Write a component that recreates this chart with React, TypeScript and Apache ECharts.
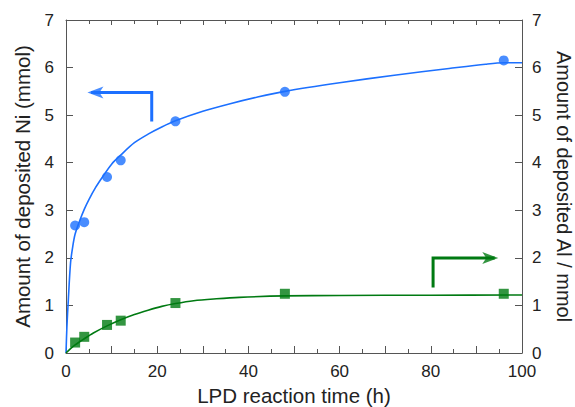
import React, { useEffect, useRef } from "react";
import * as echarts from "echarts";

const niTime = [2, 4, 9, 12, 24, 48, 96];
const niAmount = [2.68, 2.75, 3.7, 4.05, 4.87, 5.49, 6.15];
const alTime = [2, 4, 9, 12, 24, 48, 96];
const alAmount = [0.22, 0.34, 0.59, 0.68, 1.05, 1.245, 1.245];

const niFit: [number, number][] = [
  [0, 0], [0.2, 0.55], [0.5, 1.1], [1, 1.9], [1.5, 2.25], [2, 2.5], [3, 2.78],
  [4, 3.02], [5, 3.22], [6.5, 3.48], [8, 3.7], [10, 3.97], [12, 4.16], [15, 4.42],
  [18, 4.6], [21, 4.75], [24, 4.88], [30, 5.08], [36, 5.24], [42, 5.38], [48, 5.5],
  [60, 5.68], [72, 5.84], [84, 5.98], [92, 6.07], [96, 6.1], [100, 6.1],
];
const alFit: [number, number][] = [
  [0, 0], [1, 0.09], [2, 0.17], [4, 0.3], [6, 0.42], [9, 0.57], [12, 0.7],
  [15, 0.81], [18, 0.9], [21, 0.98], [24, 1.04], [28, 1.1], [33, 1.14], [38, 1.17],
  [48, 1.2], [60, 1.21], [80, 1.215], [100, 1.22],
];
const niArrowLine: [number, number][] = [[18.8, 4.865], [18.8, 5.475], [5.5, 5.475]];
const niArrowHead: [number, number] = [4.7, 5.475];
const alArrowLine: [number, number][] = [[80.5, 1.378], [80.5, 1.996], [94, 1.996]];
const alArrowHead: [number, number] = [94.8, 1.996];

const xTickLabels = ["0", "20", "40", "60", "80", "100"];

const BLUE = "#1c70ff";
const GREEN = "#007a12";
const AXIS = "#555";
const FONT = "Liberation Sans";

export default function App() {
  const ref = useRef<HTMLDivElement>(null);
  useEffect(() => {
    const chart = echarts.init(ref.current!, null, { renderer: "svg" });
    chart.setOption({
      animation: false,
      textStyle: { fontFamily: FONT },
      grid: { left: 66, right: 53, top: 20, bottom: 54, containLabel: false, outerBoundsMode: "none" },
      xAxis: [
        {
          type: "value",
          min: 0,
          max: 100,
          interval: 10,
          axisLine: { show: true, onZero: false, lineStyle: { color: AXIS, width: 1 } },
          axisTick: { show: true, inside: true, length: 7, lineStyle: { color: AXIS } },
          minorTick: { show: true, splitNumber: 2, length: 4, lineStyle: { color: AXIS } },
          splitLine: { show: false },
          axisLabel: {
            fontSize: 17,
            color: "#222",
            fontFamily: FONT,
            margin: 10,
            formatter: (v: number) => (xTickLabels.includes(String(v)) ? String(v) : ""),
          },
          name: "LPD reaction time (h)",
          nameLocation: "middle",
          nameGap: 31,
          nameTextStyle: { fontSize: 20.5, color: "#222", fontFamily: FONT },
        },
        {
          type: "value",
          position: "top",
          min: 0,
          max: 100,
          interval: 10,
          axisLine: { show: true, onZero: false, lineStyle: { color: AXIS, width: 1 } },
          axisTick: { show: true, inside: true, length: 5, lineStyle: { color: AXIS } },
          minorTick: { show: true, splitNumber: 2, length: 4, lineStyle: { color: AXIS } },
          splitLine: { show: false },
          axisLabel: { show: false },
        },
      ],
      yAxis: [
        {
          type: "value",
          position: "left",
          min: 0,
          max: 7,
          interval: 1,
          axisLine: { show: true, onZero: false, lineStyle: { color: AXIS, width: 1 } },
          axisTick: { show: true, inside: true, length: 7, lineStyle: { color: AXIS } },
          splitLine: { show: false },
          axisLabel: { fontSize: 17, color: "#222", fontFamily: FONT, margin: 12 },
          name: "Amount of deposited Ni (mmol)",
          nameLocation: "middle",
          nameGap: 33,
          nameTextStyle: { fontSize: 20.5, color: "#222", fontFamily: FONT },
        },
        {
          type: "value",
          position: "right",
          min: 0,
          max: 7,
          interval: 1,
          axisLine: { show: true, onZero: false, lineStyle: { color: AXIS, width: 1 } },
          axisTick: { show: true, inside: true, length: 7, lineStyle: { color: AXIS } },
          splitLine: { show: false },
          axisLabel: { fontSize: 17, color: "#222", fontFamily: FONT, margin: 10 },
          name: "Amount of deposited Al / mmol",
          nameLocation: "middle",
          nameGap: 32,
          nameRotate: -90,
          nameTextStyle: { fontSize: 20, color: "#222", fontFamily: FONT },
        },
      ],
      series: [
        {
          type: "line",
          data: niFit,
          smooth: 0.3,
          showSymbol: false,
          lineStyle: { color: BLUE, width: 1.6 },
          z: 2,
        },
        {
          type: "line",
          data: alFit,
          smooth: 0.3,
          showSymbol: false,
          lineStyle: { color: GREEN, width: 1.6 },
          z: 2,
        },
        {
          type: "scatter",
          data: niTime.map((t, i) => [t, niAmount[i]]),
          symbol: "circle",
          symbolSize: 10,
          itemStyle: { color: BLUE },
          z: 3,
        },
        {
          type: "scatter",
          data: alTime.map((t, i) => [t, alAmount[i]]),
          symbol: "rect",
          symbolSize: 10,
          itemStyle: { color: GREEN },
          z: 3,
        },
        {
          type: "lines",
          coordinateSystem: "cartesian2d",
          polyline: true,
          lineStyle: { color: BLUE, width: 3, opacity: 1 },
          data: [{ coords: niArrowLine }],
          z: 4,
        },
        {
          type: "lines",
          coordinateSystem: "cartesian2d",
          polyline: true,
          lineStyle: { color: GREEN, width: 3, opacity: 1 },
          data: [{ coords: alArrowLine }],
          z: 4,
        },
        {
          type: "scatter",
          data: [niArrowHead],
          symbol: "arrow",
          symbolSize: [9, 16],
          symbolRotate: 90,
          itemStyle: { color: BLUE },
          z: 5,
        },
        {
          type: "scatter",
          data: [alArrowHead],
          symbol: "arrow",
          symbolSize: [9, 16],
          symbolRotate: -90,
          itemStyle: { color: GREEN },
          z: 5,
        },
      ],
    });
    return () => chart.dispose();
  }, []);
  return <div ref={ref} style={{ width: 575, height: 407, position: "absolute", left: 0, top: 0 }} />;
}
